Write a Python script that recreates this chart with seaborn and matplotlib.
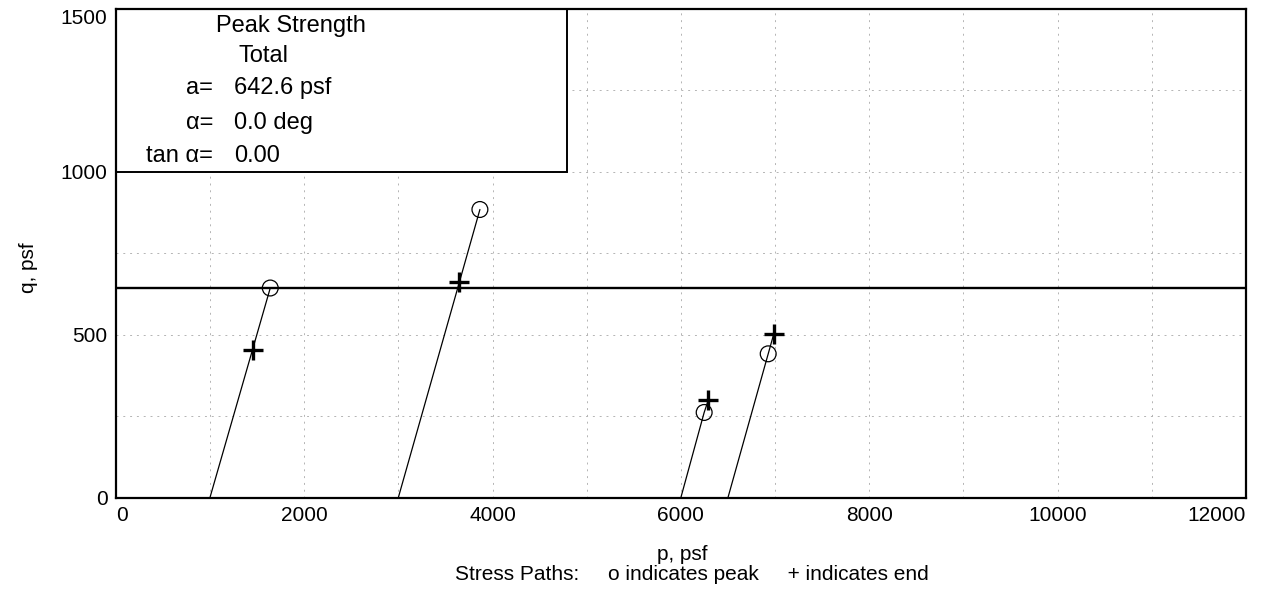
import matplotlib
matplotlib.use("Agg")
import matplotlib.pyplot as plt
from matplotlib.patches import Rectangle
import numpy as np
import pandas as pd
import seaborn as sns

# ---- data ----
test_ids = ["T1", "T2", "T3", "T4"]
start_p = [1000, 3000, 6000, 6500]
start_q = [0, 0, 0, 0]
peak_p = [1640, 3866, 6247, 6927]
peak_q = [643, 884, 261, 441]
end_p = [1452, 3648, 6290, 6987]
end_q = [454, 661, 298, 503]

strength_a = 642.6      # psf
strength_alpha = 0.0    # deg
strength_tan = 0.00
strength_p = [0, 12000]

x_ticks = [0, 2000, 4000, 6000, 8000, 10000, 12000]
y_ticks = [0, 500, 1000, 1500]

# ---- style ----
sns.set_theme(style="white")
plt.rcParams["font.family"] = ["Liberation Sans", "DejaVu Sans"]
plt.rcParams["text.color"] = "black"

W, H = 1262, 599
fig = plt.figure(figsize=(W / 100, H / 100), dpi=100)
ax_l, ax_r, ax_t, ax_b = 115.8, 1246.0, 8.8, 497.5
ax = fig.add_axes([ax_l / W, 1 - ax_b / H, (ax_r - ax_l) / W, (ax_b - ax_t) / H])

# stress paths through start, peak and end points (ordered along p)
rows = []
for i, t in enumerate(test_ids):
    rows.append(dict(test=t, p=start_p[i], q=start_q[i]))
    rows.append(dict(test=t, p=peak_p[i], q=peak_q[i]))
    rows.append(dict(test=t, p=end_p[i], q=end_q[i]))
paths = pd.DataFrame(rows)

sns.lineplot(data=paths, x="p", y="q", units="test", estimator=None, sort=True,
             color="black", linewidth=0.9, ax=ax, zorder=3)

# strength line q = a + tan(alpha) * p
strength = pd.DataFrame({"p": strength_p,
                         "q": [strength_a + strength_tan * v for v in strength_p]})
sns.lineplot(data=strength, x="p", y="q", color="black", linewidth=1.7, ax=ax, zorder=3)

peaks = pd.DataFrame({"p": peak_p, "q": peak_q})
ends = pd.DataFrame({"p": end_p, "q": end_q})
sns.scatterplot(data=peaks, x="p", y="q", marker="o", s=130, facecolors="none",
                edgecolor="black", linewidth=0.9, ax=ax, zorder=4)
sns.scatterplot(data=ends, x="p", y="q", marker="+", s=190, color="black",
                linewidth=2.4, ax=ax, zorder=4)

ax.set_xlim(0, 12000)
ax.set_ylim(0, 1500)
ax.set_xticks(x_ticks)
ax.set_yticks(y_ticks)
ax.set_xticklabels([str(v) for v in x_ticks])
ax.set_yticklabels([str(v) for v in y_ticks])
ax.set_xticks(np.arange(1000, 12000, 1000), minor=True)
ax.set_yticks(np.arange(250, 1500, 250), minor=True)
ax.tick_params(axis="both", which="both", length=0, labelsize=15, colors="black")
ax.tick_params(axis="x", pad=6)
ax.tick_params(axis="y", pad=6)
xl = ax.get_xticklabels()
xl[0].set_ha("left")
xl[-1].set_ha("right")
yl = ax.get_yticklabels()
yl[-1].set_va("top")
ax.grid(True, which="both", color="#b4b4b4", linestyle=(0, (2, 5)), linewidth=0.7)
ax.set_xlabel("")
ax.set_ylabel("")
for s in ax.spines.values():
    s.set_color("black")
    s.set_linewidth(1.6)
    s.set_zorder(6)

# summary box
box_right_p = 4790
ax.add_patch(Rectangle((0, 1000), box_right_p, 500, facecolor="white",
                       edgecolor="black", linewidth=1.4, zorder=5))
fs = 17
ax.text(1860, 1446, "Peak Strength", ha="center", va="center", fontsize=fs, zorder=7)
ax.text(1573, 1354, "Total", ha="center", va="center", fontsize=fs, zorder=7)
rows_q = [1256, 1148, 1049]
labels = ["a=", "\u03b1=", "tan \u03b1="]
values = [f"{strength_a:.1f} psf", f"{strength_alpha:.1f} deg", f"{strength_tan:.2f}"]
for q, lab, val in zip(rows_q, labels, values):
    ax.text(1031, q, lab, ha="right", va="center", fontsize=fs, zorder=7)
    ax.text(1254, q, val, ha="left", va="center", fontsize=fs, zorder=7)

# axis labels
fig.text(682 / W, 1 - 554 / H, "p, psf", ha="center", va="center", fontsize=15)
fig.text(692 / W, 1 - 575 / H,
         "Stress Paths:     o indicates peak     + indicates end",
         ha="center", va="center", fontsize=15)
fig.text(28 / W, 1 - 268 / H, "q, psf", ha="center", va="center", rotation=90,
         fontsize=15)

fig.savefig("out.png", dpi=100, facecolor="white")
